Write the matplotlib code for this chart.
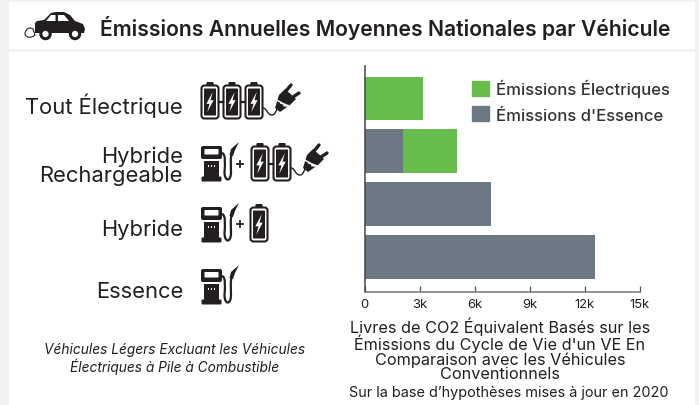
import matplotlib
matplotlib.use("Agg")
import matplotlib.pyplot as plt
from matplotlib.patches import Rectangle, Circle, FancyBboxPatch, Polygon, Patch, PathPatch
from matplotlib.path import Path

categories = ["Tout Électrique", "Hybride\nRechargeable", "Hybride", "Essence"]
gas_values = [0, 2100, 6900, 12550]
electric_values = [3200, 2950, 0, 0]
ticks = [0, 3000, 6000, 9000, 12000, 15000]
tick_labels = ["0", "3k", "6k", "9k", "12k", "15k"]
title = "Émissions Annuelles Moyennes Nationales par Véhicule"
series_names = ["Émissions d'Essence", "Émissions Électriques"]
xlabel = "Livres de CO2 Équivalent Basés sur les\nÉmissions du Cycle de Vie d'un VE En\nComparaison avec les Véhicules\nConventionnels"
note = "Sur la base d’hypothèses mises à jour en 2020"
left_note = "Véhicules Légers Excluant les Véhicules\nÉlectriques à Pile à Combustible"

GREEN = "#66bd4b"
GRAY = "#6c7883"
INK = "#231f20"
BAND = "#f1f2f4"
W, H = 699, 406
plt.rcParams["font.family"] = ["Inter", "DejaVu Sans"]

fig = plt.figure(figsize=(W / 100, H / 100), dpi=100, facecolor="white")
ov = fig.add_axes([0, 0, 1, 1], zorder=0)
ov.set_xlim(0, W); ov.set_ylim(H, 0); ov.axis("off")

# page frame
for r in [(0, 0, W, 3), (0, 0, 9, H), (695, 0, 4, H), (9, 50, 686, 3)]:
    ov.add_patch(Rectangle((r[0], r[1]), r[2], r[3], color=BAND, lw=0))

def rrect(x, y, w, h, r=1.5, fc=INK, ec="none", lw=0):
    ov.add_patch(FancyBboxPatch((x + r, y + r), w - 2 * r, h - 2 * r, boxstyle=f"round,pad={r}",
                                fc=fc, ec=ec, lw=lw))

def battery(x, y, w=18, h=37):
    rrect(x + w * 0.3, y, w * 0.4, 4, 1.2)
    rrect(x + 0.5, y + 3.5, w - 1, h - 4, 3, fc="white", ec=INK, lw=1.5)
    rrect(x + 3, y + 6.5, w - 6, h - 10, 0.8)
    cx, cy, s = x + w / 2, y + 3 + (h - 3) / 2, h / 37
    ov.add_patch(Polygon([(cx + 2.7 * s, cy - 10 * s), (cx - 3.6 * s, cy + 1.8 * s), (cx - 0.5 * s, cy + 1.8 * s),
                          (cx - 2.7 * s, cy + 10 * s), (cx + 3.6 * s, cy - 1.8 * s), (cx + 0.5 * s, cy - 1.8 * s)],
                         fc="white", ec="none"))

def plug(x, y):
    # x, y: left end of the cord; plug head goes up and right
    verts = [(x, y + 2), (x + 4, y + 2), (x + 4, y + 9), (x + 9, y + 9), (x + 12, y + 9), (x + 13, y + 5), (x + 15, y + 1)]
    ov.add_patch(PathPatch(Path(verts, [1, 4, 4, 4, 4, 4, 4]), fc="none", ec=INK, lw=1.0))
    ov.add_patch(Polygon([(x + 12, y + 2), (x + 16, y - 11), (x + 22, y - 17), (x + 33, y - 7), (x + 27, y - 1),
                          (x + 17, y + 6)], fc=INK, ec="none"))
    for k in (0, 1, 2):
        ov.plot([x + 14.5 + k * 3.2, x + 22 + k * 3.2], [y - 5.5 + k * 2.6, y + 0.5 + k * 1.0 - 6 + 4],
                color="white", lw=1.0)
    ov.plot([x + 23, x + 28], [y - 15, y - 21], color=INK, lw=2.4, solid_capstyle="round")
    ov.plot([x + 30, x + 36], [y - 9, y - 13], color=INK, lw=2.4, solid_capstyle="round")

def pump(x, y):
    rrect(x, y, 21, 13, 2)
    rrect(x + 3.5, y + 3, 14, 5.5, 0.6, fc="white")
    rrect(x + 3, y + 15, 15, 16, 0.3)
    for k in (0, 1, 2):
        ov.add_patch(Rectangle((x + 6.5 + k * 3, y + 19), 1.7, 1.7, fc="white", ec="none"))
    rrect(x + 0.5, y + 30.5, 20, 5, 1.2)
    # hose and nozzle
    verts = [(x + 21, y + 7), (x + 25, y + 8), (x + 24, y + 18), (x + 23.5, y + 26),
             (x + 23.5, y + 36), (x + 30, y + 36), (x + 30, y + 26),
             (x + 30, y + 19), (x + 29, y + 12), (x + 31, y + 7)]
    ov.add_patch(PathPatch(Path(verts, [1, 4, 4, 4, 4, 4, 4, 4, 4, 4]), fc="none", ec=INK, lw=1.6))
    ov.add_patch(Polygon([(x + 28.5, y + 9), (x + 30, y + 3), (x + 38, y - 4), (x + 34, y + 4), (x + 32, y + 10)],
                         fc=INK, ec="none"))

def plus(x, y):
    ov.plot([x - 3, x + 3], [y, y], color=INK, lw=1.3)
    ov.plot([x, x], [y - 3, y + 3], color=INK, lw=1.3)

# row 1: three batteries and plug
for bx in (201, 223, 245):
    battery(bx, 83, 18, 37)
ov.plot([219, 223], [103, 103], color=INK, lw=1.6); ov.plot([241, 245], [103, 103], color=INK, lw=1.6)
plug(263, 107)
# row 2
pump(201, 147); plus(240, 165)
for bx in (251, 273):
    battery(bx, 144, 18, 38)
ov.plot([269, 273], [165, 165], color=INK, lw=1.6)
plug(291, 167)
# row 3
pump(201, 208); plus(240, 225); battery(250, 205, 18, 38)
# row 4
pump(201, 270)

# car
ov.add_patch(Polygon([(35, 24), (37, 22), (44, 21), (51, 14), (56, 13), (64, 13), (70, 16), (75, 22), (83, 25), (85, 30),
                      (84, 34), (35, 34)], fc=INK, ec="none"))
ov.add_patch(Polygon([(46, 22), (51, 16), (55.5, 16), (55.5, 22)], fc="white", ec="none"))
ov.add_patch(Polygon([(58, 16), (64, 16), (69, 22), (58, 22)], fc="white", ec="none"))
for cx in (45.5, 75):
    ov.add_patch(Circle((cx, 35), 4.7, fc="white", ec=INK, lw=2.2, zorder=3))
ov.add_patch(PathPatch(Path([(35, 36), (31, 39.5), (26, 39), (25, 35), (25, 31), (29, 27), (33, 30), (35, 36)],
                            [1, 4, 4, 4, 4, 4, 4, 2]), fc="white", ec=INK, lw=0.8))

# texts
ov.text(100, 28, title, ha="left", va="center", fontsize=15.2, fontweight="semibold", color=INK)
label_y = [106, 166, 230, 292.5]
for c, ly in zip(categories, label_y):
    ov.text(183, ly, c, ha="right", va="center", fontsize=15.8, color=INK, linespacing=0.92)
ov.text(175, 359, left_note, ha="center", va="center", fontsize=9.9, style="italic", color=INK, linespacing=1.05)
ov.text(500, 349.5, xlabel, ha="center", va="center", fontsize=11.7, color=INK, linespacing=0.93)
ov.text(508.5, 393, note, ha="center", va="center", fontsize=10.4, color=INK)

# chart
L, R, T, B = 364.5, 639.7, 67, 293
ax = fig.add_axes([L / W, 1 - B / H, (R - L) / W, (B - T) / H], zorder=2)
ax.patch.set_alpha(0)
ypos = list(range(len(categories)))
ax.barh(ypos, gas_values, height=0.835, color=GRAY, zorder=2)
ax.barh(ypos, electric_values, left=gas_values, height=0.835, color=GREEN, zorder=2)
ax.set_xlim(0, 15000)
ax.set_ylim(3.673, -0.617)
ax.set_yticks([])
ax.set_xticks(ticks, tick_labels)
ax.tick_params(axis="x", direction="in", length=4.2, width=0.9, color="#555555", labelsize=9.4,
               labelcolor=INK, pad=4.5)
for s in ("top", "right"):
    ax.spines[s].set_visible(False)
ax.spines["left"].set_color("#444444"); ax.spines["bottom"].set_color("#777777")
ax.spines["left"].set_linewidth(1.1); ax.spines["bottom"].set_linewidth(1.1)
leg = ax.legend(handles=[Patch(color=GREEN, label=series_names[1]), Patch(color=GRAY, label=series_names[0])],
                frameon=False, loc="upper left", bbox_to_anchor=((472 - L) / (R - L), (B - 80) / (B - T)),
                borderaxespad=0, borderpad=0, fontsize=12, handlelength=1.02, handleheight=1.02,
                handletextpad=0.42, labelspacing=0.55, labelcolor="#333333")
for t in leg.get_texts():
    t.set_fontweight("medium")

fig.savefig("out.png", dpi=100)
